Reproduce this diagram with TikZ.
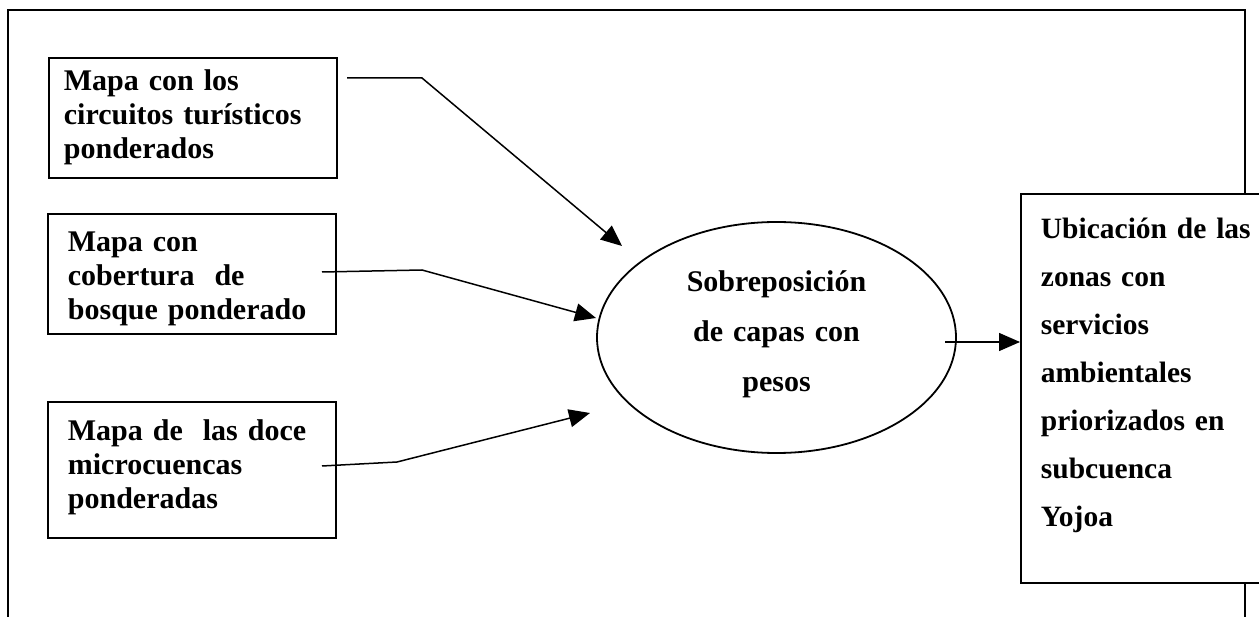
\documentclass[tikz,border=0pt]{standalone}
\usepackage{fontspec}
\setmainfont{Liberation Serif}
\usetikzlibrary{arrows.meta,shapes.geometric}

\begin{document}
\begin{tikzpicture}[x=1pt,y=-1pt,
  frame/.style={line width=2.5pt},
  card/.style={draw, fill=white, line width=1.8pt, rectangle, anchor=north west,
    align=left, inner ysep=0pt,
    font=\fontsize{30}{34}\selectfont\bfseries},
  oval/.style={draw, ellipse, line width=1.8pt, inner sep=0pt,
    minimum width=359pt, minimum height=231pt, align=center, text width=200pt,
    font=\fontsize{30}{50}\selectfont\bfseries},
  link/.style={line width=1.5pt, -{Triangle[length=21pt,width=18pt]}}]
\clip (0,0) rectangle (1259,617);
\fill[white] (0,0) rectangle (1259,617);

% outer frame
\draw[frame] (8,630) -- (8,10) -- (1245,10) -- (1245,630);

% input maps
\node[card, inner xsep=15pt, text width=258pt, text height=33pt, text depth=87pt]
  (b1) at (48,57) {Mapa con los\\circuitos turísticos\\ponderados};
\node[card, inner xsep=20pt, text width=248pt, text height=38pt, text depth=82pt]
  (b2) at (47,213) {Mapa con\\cobertura\ \ de\\bosque ponderado};
\node[card, inner xsep=20pt, text width=248pt, text height=39pt, text depth=97pt]
  (b3) at (47,401) {Mapa de\ \ las doce\\microcuencas\\ponderadas};

% weighted overlay
\node[oval, text height=21pt, text depth=112pt] (ell) at (776.5,337.5)
  {Sobreposición\\de capas con\\pesos};

% result
\node[card, inner xsep=20pt, text width=215pt, text height=45pt, text depth=344pt,
  font=\fontsize{29.5}{48}\selectfont\bfseries]
  (ubi) at (1020,193) {Ubicación de las\\zonas con\\servicios\\ambientales\\priorizados en\\subcuenca\\Yojoa};

% connector points
\coordinate (s1) at (347,78);
\coordinate (k1) at (422,78);
\coordinate (e1) at (622,246);
\coordinate (s2) at (322,272);
\coordinate (k2) at (422,270);
\coordinate (e2) at (596,318);
\coordinate (s3) at (322,466);
\coordinate (k3) at (397,462);
\coordinate (e3) at (590,413);
\coordinate (s4) at (945,342);

\draw[link] (s1) -- (k1) -- (e1);
\draw[link] (s2) -- (k2) -- (e2);
\draw[link] (s3) -- (k3) -- (e3);
\draw[link] (s4) -- (s4 -| ubi.west);
\end{tikzpicture}
\end{document}
